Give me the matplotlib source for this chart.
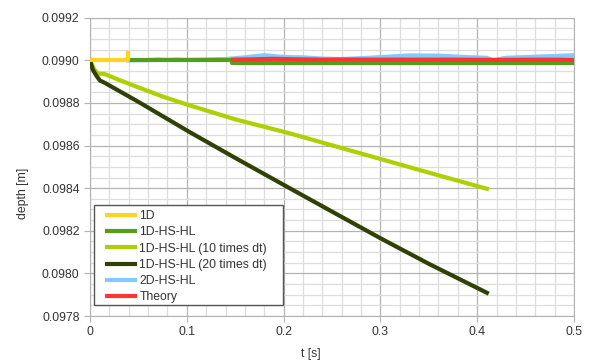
import matplotlib
matplotlib.use("Agg")
import matplotlib.pyplot as plt
from matplotlib.patches import Rectangle
from matplotlib.ticker import MultipleLocator, FormatStrFormatter

# series
t_1d = [0.0, 0.039, 0.039]
d_1d = [0.09900, 0.09900, 0.099033]

t_hs = [0.039, 0.147, 0.147, 0.5]
d_hs = [0.09900, 0.09900, 0.098988, 0.098988]

t_10 = [0.0, 0.004, 0.008, 0.015, 0.03, 0.05, 0.075, 0.1033, 0.15, 0.2066, 0.25, 0.30, 0.35, 0.41]
d_10 = [0.09900, 0.098960, 0.098938, 0.098936, 0.098908, 0.098873, 0.098830, 0.098788,
        0.098723, 0.098657, 0.098601, 0.098537, 0.098473, 0.098397]

t_20 = [0.0, 0.003, 0.007, 0.0103, 0.015, 0.05, 0.103, 0.15, 0.2066, 0.25, 0.30, 0.35, 0.41]
d_20 = [0.09900, 0.098955, 0.098925, 0.098905, 0.098895, 0.098805, 0.098663, 0.098542,
        0.098399, 0.098290, 0.098165, 0.098045, 0.097909]

t_2d = [0.04, 0.06, 0.07, 0.08, 0.09, 0.10, 0.12, 0.14, 0.16, 0.18, 0.20, 0.22, 0.24,
        0.26, 0.28, 0.30, 0.33, 0.36, 0.39, 0.41, 0.416, 0.43, 0.46, 0.49, 0.5]
d_2d = [0.099000, 0.099001, 0.099004, 0.099002, 0.099004, 0.099002, 0.099004, 0.099006,
        0.099014, 0.099024, 0.099016, 0.099014, 0.099008, 0.099006, 0.099010, 0.099015,
        0.099023, 0.099022, 0.099015, 0.099012, 0.099000, 0.099012, 0.099017, 0.099022,
        0.099024]

t_th = [0.148, 0.17, 0.19, 0.21, 0.24, 0.26, 0.30, 0.34, 0.38, 0.42, 0.46, 0.5]
d_th = [0.099003, 0.099005, 0.099007, 0.099005, 0.099003, 0.099004, 0.099003,
        0.099004, 0.099003, 0.099002, 0.099003, 0.099003]

labels = ["1D", "1D-HS-HL", "1D-HS-HL (10 times dt)", "1D-HS-HL (20 times dt)", "2D-HS-HL", "Theory"]
colors = ["#ffd320", "#579d1c", "#aecf00", "#314004", "#83caff", "#ff3333"]

plt.rcParams['font.family'] = ['Liberation Sans', 'DejaVu Sans']

fig = plt.figure(figsize=(5.9, 3.63), dpi=100)
ax_w, ax_h = 484.0, 316 - 17.7
ax = fig.add_axes([90 / 590, 1 - 316 / 363, ax_w / 590, ax_h / 363])

lw = 3.0
h_2d, = ax.plot(t_2d, d_2d, color=colors[4], lw=lw, zorder=2, label=labels[4])
h_hs, = ax.plot(t_hs, d_hs, color=colors[1], lw=lw, zorder=3, label=labels[1])
h_th, = ax.plot(t_th, d_th, color=colors[5], lw=lw, zorder=4, label=labels[5])
h_10, = ax.plot(t_10, d_10, color=colors[2], lw=lw, zorder=5, label=labels[2])
h_20, = ax.plot(t_20, d_20, color=colors[3], lw=lw, zorder=6, label=labels[3])
h_1d, = ax.plot(t_1d, d_1d, color=colors[0], lw=lw, zorder=7, label=labels[0])

ax.set_xlim(0, 0.5)
ax.set_ylim(0.0978, 0.0992)
ax.xaxis.set_minor_locator(MultipleLocator(0.02))
ax.yaxis.set_major_locator(MultipleLocator(0.0002))
ax.yaxis.set_minor_locator(MultipleLocator(0.00005))
ax.yaxis.set_major_formatter(FormatStrFormatter('%.4f'))
ax.set_xticks([0, 0.1, 0.2, 0.3, 0.4, 0.5])
ax.set_xticklabels(["0", "0.1", "0.2", "0.3", "0.4", "0.5"])

ax.grid(which='major', color='#b3b3b3', lw=0.9, zorder=0)
ax.grid(which='minor', color='#dddddd', lw=0.9, zorder=0)
ax.set_axisbelow(True)
for s in ax.spines.values():
    s.set_color('#b3b3b3')
ax.tick_params(which='major', direction='out', length=4, color='#b3b3b3',
               labelsize=8.8, labelcolor='#333333', pad=3.5)
ax.tick_params(which='minor', length=0)

ax.set_xlabel('t [s]', fontsize=8.8, color='#333333')
ax.set_ylabel('depth [m]', fontsize=8.8, color='#333333')
ax.xaxis.set_label_coords((311 - 90) / ax_w, -(348 - 316) / ax_h)
ax.yaxis.set_label_coords(-(90 - 29) / ax_w, (316 - 193) / ax_h)

# legend without its own frame, box drawn separately
leg = ax.legend(handles=[h_1d, h_hs, h_10, h_20, h_2d, h_th], loc='upper left',
                bbox_to_anchor=((107 - 90) / ax_w, (316 - 210) / ax_h), borderaxespad=0,
                fontsize=8.8, frameon=False, handlelength=2.3, handletextpad=0.35,
                labelspacing=0.35, borderpad=0)
for txt in leg.get_texts():
    txt.set_color('#333333')
leg.set_zorder(11)
box = Rectangle(((94 - 90) / ax_w, (316 - 305) / ax_h), (283 - 94) / ax_w, (305 - 205) / ax_h,
                transform=ax.transAxes, facecolor='white', edgecolor='#555555', lw=1.0, zorder=10)
ax.add_patch(box)

fig.savefig('out.png', dpi=100)
